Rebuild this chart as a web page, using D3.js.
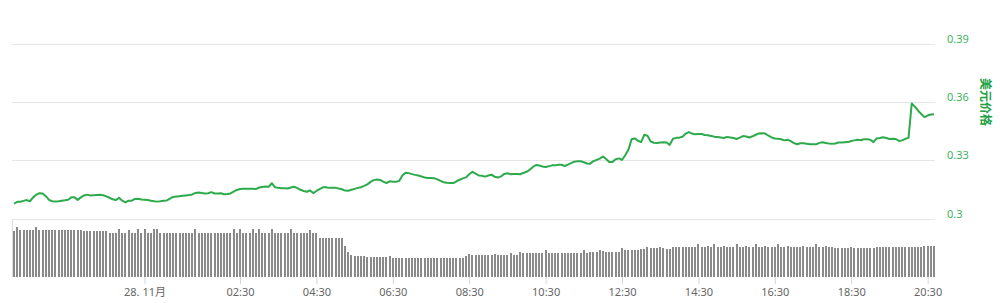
<!DOCTYPE html>
<html>
<head>
<meta charset="utf-8">
<title>价格</title>
<script src="https://d3js.org/d3.v7.min.js"></script>
<style>
  body { margin: 0; background: #fff; }
  svg { display: block; font-family: "Noto Sans", "Noto Sans CJK SC", sans-serif; }
</style>
</head>
<body>
<div id="chart"></div>
<script>
// 5-minute samples starting 27 Nov 20:35
var startTime = new Date(2018, 10, 27, 20, 35);

var price = [
  0.3076, 0.3086, 0.3086, 0.3091, 0.3095, 0.3089, 0.3109, 0.3123, 0.3130, 0.3129,
  0.3115, 0.3096, 0.3089, 0.3088, 0.3089, 0.3092, 0.3094, 0.3097, 0.3109, 0.3109,
  0.3096, 0.3109, 0.3119, 0.3123, 0.3119, 0.3120, 0.3121, 0.3122, 0.3120, 0.3114,
  0.3107, 0.3099, 0.3095, 0.3107, 0.3092, 0.3083, 0.3092, 0.3092, 0.3101, 0.3102,
  0.3098, 0.3097, 0.3095, 0.3092, 0.3089, 0.3087, 0.3089, 0.3092, 0.3093, 0.3102,
  0.3111, 0.3113, 0.3115, 0.3117, 0.3119, 0.3121, 0.3124, 0.3132, 0.3134, 0.3131,
  0.3129, 0.3130, 0.3136, 0.3129, 0.3129, 0.3130, 0.3125, 0.3126, 0.3129, 0.3138,
  0.3147, 0.3152, 0.3153, 0.3154, 0.3154, 0.3153, 0.3152, 0.3160, 0.3163, 0.3165,
  0.3164, 0.3182, 0.3161, 0.3158, 0.3156, 0.3156, 0.3155, 0.3160, 0.3164, 0.3157,
  0.3148, 0.3142, 0.3138, 0.3145, 0.3131, 0.3142, 0.3152, 0.3161, 0.3161, 0.3158,
  0.3158, 0.3158, 0.3155, 0.3151, 0.3144, 0.3143, 0.3148, 0.3153, 0.3158, 0.3161,
  0.3168, 0.3176, 0.3189, 0.3198, 0.3201, 0.3199, 0.3190, 0.3183, 0.3192, 0.3189,
  0.3190, 0.3194, 0.3222, 0.3236, 0.3234, 0.3229, 0.3225, 0.3222, 0.3217, 0.3212,
  0.3209, 0.3209, 0.3208, 0.3202, 0.3194, 0.3187, 0.3184, 0.3183, 0.3183, 0.3192,
  0.3200, 0.3207, 0.3212, 0.3228, 0.3241, 0.3231, 0.3222, 0.3220, 0.3216, 0.3222,
  0.3226, 0.3215, 0.3211, 0.3217, 0.3230, 0.3233, 0.3228, 0.3230, 0.3230, 0.3228,
  0.3235, 0.3241, 0.3251, 0.3266, 0.3276, 0.3273, 0.3268, 0.3266, 0.3269, 0.3274,
  0.3274, 0.3277, 0.3277, 0.3271, 0.3278, 0.3286, 0.3293, 0.3295, 0.3295, 0.3290,
  0.3284, 0.3283, 0.3296, 0.3302, 0.3309, 0.3320, 0.3307, 0.3291, 0.3292, 0.3306,
  0.3310, 0.3302, 0.3326, 0.3354, 0.3409, 0.3413, 0.3401, 0.3394, 0.3432, 0.3427,
  0.3397, 0.3391, 0.3389, 0.3392, 0.3393, 0.3392, 0.3380, 0.3411, 0.3416, 0.3417,
  0.3422, 0.3438, 0.3446, 0.3438, 0.3434, 0.3436, 0.3436, 0.3431, 0.3429, 0.3426,
  0.3422, 0.3420, 0.3418, 0.3415, 0.3421, 0.3418, 0.3415, 0.3410, 0.3417, 0.3425,
  0.3423, 0.3418, 0.3424, 0.3432, 0.3439, 0.3440, 0.3438, 0.3427, 0.3418, 0.3413,
  0.3411, 0.3409, 0.3403, 0.3406, 0.3399, 0.3389, 0.3383, 0.3388, 0.3388, 0.3386,
  0.3383, 0.3383, 0.3383, 0.3390, 0.3393, 0.3389, 0.3387, 0.3386, 0.3387, 0.3392,
  0.3392, 0.3393, 0.3394, 0.3400, 0.3403, 0.3406, 0.3404, 0.3409, 0.3409, 0.3406,
  0.3394, 0.3413, 0.3415, 0.3419, 0.3415, 0.3410, 0.3411, 0.3410, 0.3400, 0.3403,
  0.3411, 0.3416, 0.3593, 0.3577, 0.3556, 0.3539, 0.3523, 0.3531, 0.3536, 0.3538
];

var volume = [
  46, 50, 47, 47, 47, 47, 47, 50, 47, 47,
  47, 47, 47, 47, 47, 47, 47, 47, 47, 47,
  47, 47, 46, 46, 46, 46, 46, 46, 46, 46,
  44, 44, 44, 48, 44, 44, 47, 44, 44, 48,
  44, 48, 44, 44, 48, 48, 44, 44, 44, 44,
  44, 44, 44, 44, 44, 44, 44, 48, 44, 44,
  44, 44, 44, 44, 44, 44, 44, 44, 44, 48,
  44, 48, 44, 44, 44, 48, 44, 48, 44, 44,
  44, 48, 44, 44, 44, 44, 44, 48, 44, 44,
  44, 44, 44, 47, 44, 44, 39.5, 39.5, 39.5, 39.5,
  39.5, 39.5, 39.5, 39, 31.5, 25.5, 22, 21, 21, 21,
  21, 19.7, 19.7, 19.7, 19.7, 19.7, 19.7, 19.7, 21, 18.7,
  18.7, 18.7, 18.7, 19.5, 18.7, 18.7, 18.7, 18.7, 18.7, 18.7,
  18.7, 18.7, 18.7, 18.7, 18.7, 18.7, 19, 19, 19, 19,
  19, 19, 21, 23, 22, 22, 22, 22, 22, 22,
  22, 23, 22, 22, 22, 22, 24.3, 22, 22, 25.3,
  24.3, 24.3, 24.3, 24.3, 24.3, 24.3, 24.3, 27, 24.3, 24.3,
  24.3, 24.3, 24.3, 24.3, 24.3, 24.3, 24.3, 24.3, 24.3, 27,
  24.3, 25.3, 25.3, 25.3, 27, 26.3, 25.3, 25.3, 25.3, 25.3,
  25.3, 28.7, 27, 27, 27, 27, 27, 28, 28, 30.3,
  28.7, 28.7, 28.7, 30.5, 28.7, 28, 28.5, 29.7, 29.7, 30,
  30.3, 30.3, 30.3, 30.3, 30.3, 33, 30.3, 30.3, 31, 30.3,
  33, 30.3, 30.3, 31, 30.3, 30.3, 30.3, 33, 30.3, 30.3,
  31, 30.3, 30.3, 33, 30.3, 30.3, 31, 30.3, 30.3, 30.3,
  33, 30.3, 30.3, 31, 30.3, 30.3, 30.3, 30.3, 31, 30.3,
  30.3, 30.3, 33, 30.3, 30.3, 31, 30.3, 30.3, 28.7, 28.7,
  28.7, 28.7, 28.7, 30, 28.7, 28.7, 28.7, 29.5, 28.7, 28.7,
  28.7, 30.3, 30.3, 30.3, 30.3, 30.3, 30.3, 30.3, 30.3, 30.3,
  30.3, 30.3, 30.3, 30.3, 30.3, 30.3, 31, 31, 31, 31
];

var yTicks = [0.3, 0.33, 0.36, 0.39];
var xTickTimes = [
  new Date(2018, 10, 28, 0, 0), new Date(2018, 10, 28, 2, 30), new Date(2018, 10, 28, 4, 30),
  new Date(2018, 10, 28, 6, 30), new Date(2018, 10, 28, 8, 30), new Date(2018, 10, 28, 10, 30),
  new Date(2018, 10, 28, 12, 30), new Date(2018, 10, 28, 14, 30), new Date(2018, 10, 28, 16, 30),
  new Date(2018, 10, 28, 18, 30), new Date(2018, 10, 28, 20, 30)
];
var xTickLabels = ["28. 11月", "02:30", "04:30", "06:30", "08:30", "10:30",
                   "12:30", "14:30", "16:30", "18:30", "20:30"];

var width = 1000, height = 303;

var data = price.map(function(p, i) {
  return { t: new Date(+startTime + i * 5 * 60000), price: p, volume: volume[i] };
});

var svg = d3.select("#chart").append("svg")
  .attr("width", width)
  .attr("height", height);

var x = d3.scaleTime()
  .domain([new Date(2018, 10, 27, 20, 35), new Date(2018, 10, 28, 20, 40)])
  .range([14, 934]);

var y = d3.scaleLinear()
  .domain([0.3, 0.39])
  .range([218.5, 44]);

var yVol = d3.scaleLinear()
  .domain([0, 50])
  .range([277, 227]);

// grid lines + right labels
svg.append("g")
  .selectAll("line")
  .data(yTicks)
  .enter().append("line")
    .attr("x1", 12).attr("x2", 935)
    .attr("y1", function(d) { return Math.round(y(d)) + 0.5; })
    .attr("y2", function(d) { return Math.round(y(d)) + 0.5; })
    .attr("stroke", "#e6e6e6");

svg.append("g")
  .selectAll("text")
  .data(yTicks)
  .enter().append("text")
    .attr("x", 947)
    .attr("y", function(d) { return y(d) - 1; })
    .attr("fill", "#3fb35e")
    .style("font-size", "11px")
    .text(function(d) { return d3.format("")(d); });

svg.append("text")
  .attr("transform", "translate(981,102) rotate(90)")
  .attr("text-anchor", "middle")
  .attr("fill", "#25a045")
  .style("font-size", "12px")
  .style("font-weight", "bold")
  .text("美元价格");

// volume bars (snapped to whole pixels so the gaps stay visible)
svg.append("g")
  .attr("shape-rendering", "crispEdges")
  .selectAll("rect")
  .data(data)
  .enter().append("rect")
    .attr("x", function(d) { return Math.round(x(d.t) - 1); })
    .attr("width", 2)
    .attr("y", function(d) { return Math.round(yVol(d.volume)); })
    .attr("height", function(d) { return yVol(0) - Math.round(yVol(d.volume)); })
    .attr("fill", "#8a8a8a");

// volume pane left edge
svg.append("line")
  .attr("x1", 12.5).attr("x2", 12.5)
  .attr("y1", 220).attr("y2", 277)
  .attr("stroke", "#d8dde6");

// x axis
var xAxis = d3.axisBottom(x)
  .tickValues(xTickTimes)
  .tickSize(7)
  .tickFormat(function(d, i) { return xTickLabels[i]; });

var gx = svg.append("g")
  .attr("transform", "translate(0,277)")
  .call(xAxis);
gx.select(".domain").remove();
gx.selectAll(".tick line").attr("stroke", "#ccd6eb");
gx.selectAll(".tick text")
  .attr("y", 11)
  .attr("fill", "#666")
  .style("font-size", "11px")
  .style("font-family", "\"Noto Sans\", \"Noto Sans CJK SC\", sans-serif");

// price line
svg.append("path")
  .datum(data)
  .attr("fill", "none")
  .attr("stroke", "#2daa4b")
  .attr("stroke-width", 2)
  .attr("stroke-linejoin", "round")
  .attr("d", d3.line()
    .x(function(d) { return x(d.t); })
    .y(function(d) { return y(d.price); }));
</script>
</body>
</html>
